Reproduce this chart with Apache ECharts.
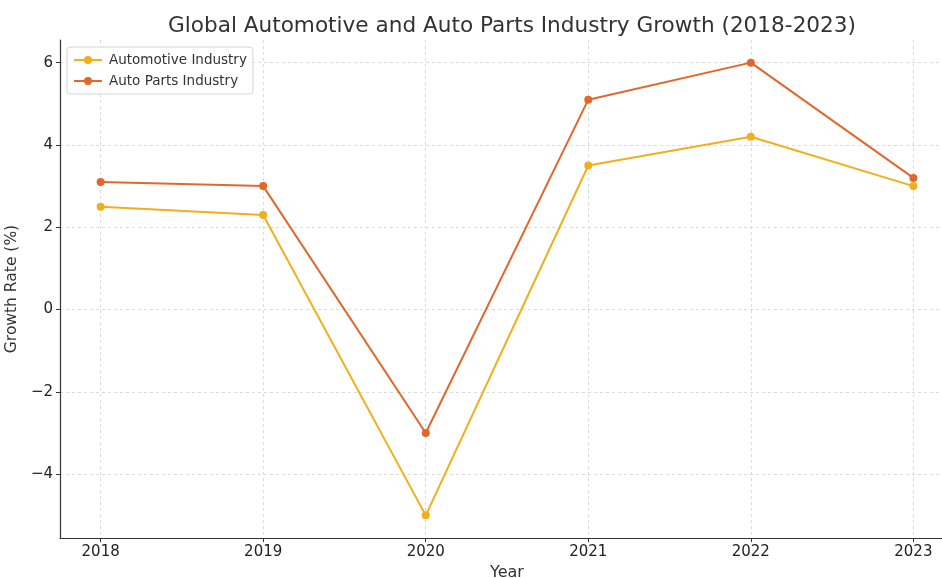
<!DOCTYPE html>
<html>
<head>
<meta charset="utf-8">
<script src="https://cdn.jsdelivr.net/npm/echarts@6/dist/echarts.min.js"></script>
<style>html,body{margin:0;padding:0;background:#fff;overflow:hidden;}#c{width:942px;height:578px;}</style>
</head>
<body>
<div id="c"></div>
<script>
const years = [2018, 2019, 2020, 2021, 2022, 2023];
const automotive = [2.5, 2.3, -5.0, 3.5, 4.2, 3.0];
const autoParts = [3.1, 3.0, -3.0, 5.1, 6.0, 3.2];
const yTicks = [-4, -2, 0, 2, 4, 6];
const seriesNames = ['Automotive Industry', 'Auto Parts Industry'];
const colors = ['#F2AE1C', '#E2672C'];
const titleText = 'Global Automotive and Auto Parts Industry Growth (2018-2023)';

const font = 'DejaVu Sans';
const chart = echarts.init(document.getElementById('c'), null, {renderer: 'canvas'});
const gridLine = {show: true, lineStyle: {color: '#d2d2d2', type: [3, 3], width: 0.8}};
chart.setOption({
  animation: false,
  backgroundColor: '#ffffff',
  title: {
    text: titleText, left: 507, top: 10, textAlign: 'center',
    textStyle: {fontFamily: font, fontSize: 21.6, fontWeight: 'normal', color: '#333333'}
  },
  legend: {
    left: 67, top: 47, orient: 'vertical',
    data: seriesNames,
    backgroundColor: 'rgba(255,255,255,0.85)',
    borderColor: '#d5d5d5', borderWidth: 1, borderRadius: 3,
    padding: [6, 6, 6, 6], itemGap: 7,
    itemWidth: 28, itemHeight: 10,
    textStyle: {fontFamily: font, fontSize: 13.5, color: '#333333', padding: [0, 0, 0, 2]}
  },
  grid: {left: 60, width: 894, top: 40, height: 498, outerBoundsMode: 'none', containLabel: false},
  xAxis: {
    type: 'value', min: 2017.75, max: 2023.25,
    name: 'Year', nameLocation: 'middle', nameGap: 27,
    nameTextStyle: {fontFamily: font, fontSize: 16, color: '#333333'},
    axisLine: {show: true, onZero: false, lineStyle: {color: '#333333', width: 1.2}},
    axisTick: {show: true, inside: false, length: 4, customValues: years, lineStyle: {color: '#333333'}},
    axisLabel: {customValues: years, fontFamily: font, fontSize: 15, color: '#222222', margin: 7, formatter: v => String(v)},
    splitLine: gridLine
  },
  yAxis: {
    type: 'value', min: -5.55, max: 6.55,
    name: 'Growth Rate (%)', nameLocation: 'middle', nameGap: 34, nameRotate: 90,
    nameTextStyle: {fontFamily: font, fontSize: 15.5, color: '#333333'},
    axisLine: {show: true, onZero: false, lineStyle: {color: '#333333', width: 1.2}},
    axisTick: {show: true, inside: false, length: 4, customValues: yTicks, lineStyle: {color: '#333333'}},
    axisLabel: {customValues: yTicks, fontFamily: font, fontSize: 15, color: '#222222', margin: 7,
      formatter: v => (v < 0 ? '\u2212' + Math.abs(v) : String(v))},
    splitLine: gridLine
  },
  series: [
    {name: seriesNames[0], type: 'line', data: years.map((y, i) => [y, automotive[i]]),
     symbol: 'circle', symbolSize: 8, lineStyle: {width: 2, color: colors[0]},
     itemStyle: {color: colors[0]}, z: 3},
    {name: seriesNames[1], type: 'line', data: years.map((y, i) => [y, autoParts[i]]),
     symbol: 'circle', symbolSize: 8, lineStyle: {width: 2, color: colors[1]},
     itemStyle: {color: colors[1]}, z: 4}
  ]
});
</script>
</body>
</html>
